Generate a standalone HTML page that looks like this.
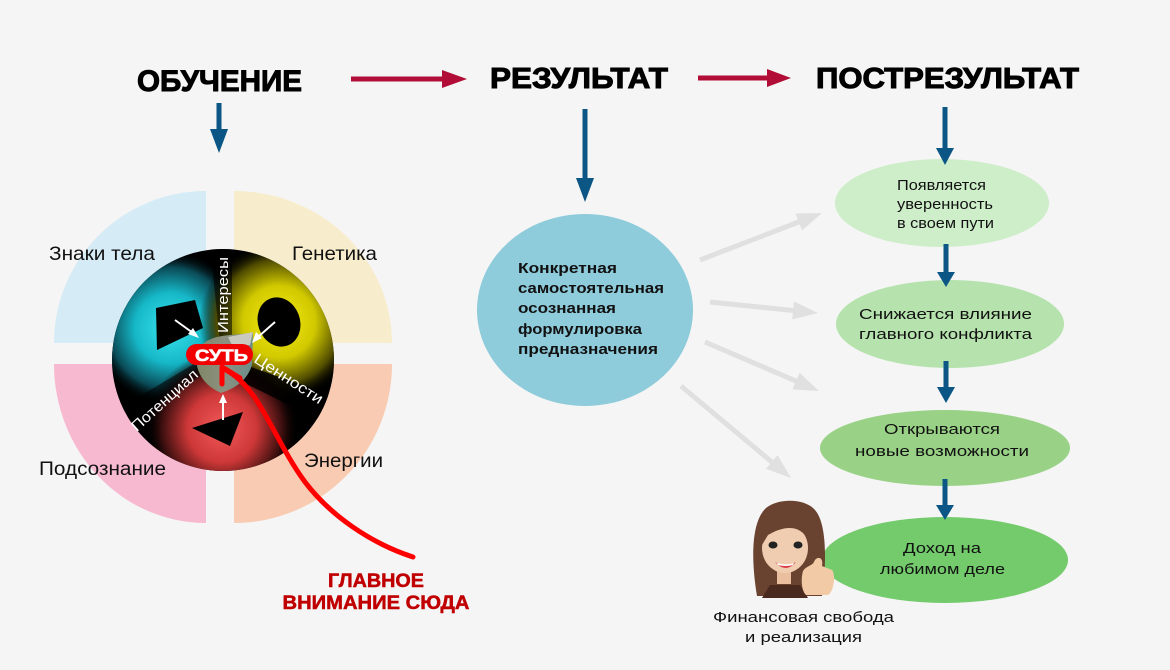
<!DOCTYPE html>
<html><head><meta charset="utf-8">
<style>
html,body{margin:0;padding:0;background:#f5f5f5;}
svg{display:block;}
text{font-family:"Liberation Sans",sans-serif;}
</style></head>
<body>
<svg width="1170" height="670" viewBox="0 0 1170 670" xmlns="http://www.w3.org/2000/svg">
<defs>
  <radialGradient id="gc" cx="170" cy="328" r="78" gradientUnits="userSpaceOnUse">
    <stop offset="0" stop-color="#3ae4ee"/>
    <stop offset="0.45" stop-color="#16b8c8"/>
    <stop offset="0.78" stop-color="#0a4a56"/>
    <stop offset="1" stop-color="#000" stop-opacity="0"/>
  </radialGradient>
  <radialGradient id="gy" cx="279" cy="322" r="80" gradientUnits="userSpaceOnUse">
    <stop offset="0" stop-color="#f2ea10"/>
    <stop offset="0.45" stop-color="#d2ca00"/>
    <stop offset="0.78" stop-color="#4e4a00"/>
    <stop offset="1" stop-color="#000" stop-opacity="0"/>
  </radialGradient>
  <radialGradient id="gr" cx="222" cy="428" r="76" gradientUnits="userSpaceOnUse">
    <stop offset="0" stop-color="#f25a5a"/>
    <stop offset="0.45" stop-color="#cf3838"/>
    <stop offset="0.8" stop-color="#3a0e0e"/>
    <stop offset="1" stop-color="#000" stop-opacity="0"/>
  </radialGradient>
  <linearGradient id="gs" x1="0" y1="0" x2="1" y2="0">
    <stop offset="0" stop-color="#7e8868"/>
    <stop offset="0.5" stop-color="#8d9080"/>
    <stop offset="1" stop-color="#6a8e8a"/>
  </linearGradient>
  <clipPath id="cc"><circle cx="223" cy="360" r="111"/></clipPath>
</defs>

<!-- Titles -->
<text x="137" y="91" font-size="30" font-weight="bold" fill="#000" stroke="#000" stroke-width="1" textLength="165" lengthAdjust="spacingAndGlyphs">ОБУЧЕНИЕ</text>
<text x="490" y="88" font-size="29" font-weight="bold" fill="#000" stroke="#000" stroke-width="1" textLength="178" lengthAdjust="spacingAndGlyphs">РЕЗУЛЬТАТ</text>
<text x="816" y="88" font-size="29" font-weight="bold" fill="#000" stroke="#000" stroke-width="1" textLength="263" lengthAdjust="spacingAndGlyphs">ПОСТРЕЗУЛЬТАТ</text>

<!-- Red horizontal arrows -->
<rect x="351" y="76.5" width="93" height="5" fill="#b10d36"/>
<polygon points="442,70 467,79 442,88" fill="#b10d36"/>
<rect x="698" y="75.5" width="71" height="5" fill="#b10d36"/>
<polygon points="767,69 791,78 767,87" fill="#b10d36"/>

<!-- Blue down arrows -->
<g fill="#0b5684">
  <rect x="216.5" y="103" width="5" height="28"/><polygon points="210,129 228,129 219,153"/>
  <rect x="582.5" y="109" width="5" height="71"/><polygon points="576,178 594,178 585,202"/>
</g>

<!-- Quarter shapes -->
<path d="M206,343 L54,343 A152,152 0 0 1 206,191 Z" fill="#d5ebf6"/>
<path d="M234,343 L234,191 A158,152 0 0 1 392,343 Z" fill="#f7edcd"/>
<path d="M206,364 L206,523 A152,159 0 0 1 54,364 Z" fill="#f7b9cf"/>
<path d="M234,364 L392,364 A158,159 0 0 1 234,523 Z" fill="#f9cbb2"/>

<text x="49" y="260" font-size="19" fill="#111" textLength="106" lengthAdjust="spacingAndGlyphs">Знаки тела</text>
<text x="292" y="260" font-size="19" fill="#111" textLength="85" lengthAdjust="spacingAndGlyphs">Генетика</text>
<text x="39" y="475" font-size="19" fill="#111" textLength="127" lengthAdjust="spacingAndGlyphs">Подсознание</text>
<text x="304" y="467" font-size="19" fill="#111" textLength="79" lengthAdjust="spacingAndGlyphs">Энергии</text>

<!-- Dark circle -->
<circle cx="223" cy="360" r="111" fill="#000"/>
<g clip-path="url(#cc)">
  <circle cx="170" cy="328" r="78" fill="url(#gc)"/>
  <circle cx="279" cy="322" r="80" fill="url(#gy)"/>
  <circle cx="222" cy="428" r="76" fill="url(#gr)"/>
  <!-- dark bands -->
  <polygon points="225,358 340,398 340,430 222,372" fill="#000" opacity="0.85"/>
  <polygon points="222,362 210,245 232,245 232,362" fill="#000" opacity="0.55"/>
  <polygon points="220,362 110,440 100,420 214,352" fill="#000" opacity="0.55"/>
</g>
<!-- black shapes -->
<polygon points="156,308 195,300 203,328 157,350" fill="#000"/>
<ellipse cx="279" cy="322" rx="21" ry="25" transform="rotate(-20 279 322)" fill="#000"/>
<polygon points="192,428 243,412 230,446" fill="#000"/>

<!-- center shield -->
<path d="M197,352 Q203,337 230,335 L253,333 L252,365 Q246,385 221,393 Q201,384 197,366 Z" fill="url(#gs)"/>
<path d="M228,337 L253,332 L250,345 L233,347 Z" fill="#c9c9bf"/>

<!-- white arrows -->
<g stroke="#fff" stroke-width="2" fill="#fff">
  <line x1="175" y1="320" x2="193" y2="333"/>
  <polygon points="199,338 188,334 193,328" stroke="none"/>
  <line x1="275" y1="322" x2="258" y2="337"/>
  <polygon points="252,343 256,332 262,338" stroke="none"/>
  <line x1="223" y1="420" x2="223" y2="401"/>
  <polygon points="223,394 219,403 227,403" stroke="none"/>
</g>

<!-- rotated white labels -->
<text transform="translate(228,295) rotate(-90)" text-anchor="middle" font-size="15" fill="#fff" textLength="76" lengthAdjust="spacingAndGlyphs">Интересы</text>
<text transform="translate(286,383) rotate(33)" text-anchor="middle" font-size="15" fill="#fff" textLength="79" lengthAdjust="spacingAndGlyphs">Ценности</text>
<text transform="translate(168,404) rotate(-42)" text-anchor="middle" font-size="15" fill="#fff" textLength="84" lengthAdjust="spacingAndGlyphs">Потенциал</text>

<!-- СУТЬ pill -->
<rect x="186" y="344" width="67" height="21" rx="10.5" fill="#f20000"/>
<text x="195" y="361" font-size="17" font-weight="bold" fill="#fff" stroke="#fff" stroke-width="0.6" textLength="53" lengthAdjust="spacingAndGlyphs">СУТЬ</text>

<!-- red curved arrow -->
<path d="M413,557 C370,543 330,515 305,482 C285,455 270,420 255,398 C245,384 236,375 224,369" fill="none" stroke="#ff0000" stroke-width="5" stroke-linecap="round"/>
<polyline points="222,384 222,367 240,378" fill="none" stroke="#ff0000" stroke-width="5" stroke-linecap="round" stroke-linejoin="round"/>

<text x="376" y="587" text-anchor="middle" font-size="19" font-weight="bold" fill="#c00000" stroke="#c00000" stroke-width="0.5" textLength="96" lengthAdjust="spacingAndGlyphs">ГЛАВНОЕ</text>
<text x="376" y="609" text-anchor="middle" font-size="19" font-weight="bold" fill="#c00000" stroke="#c00000" stroke-width="0.5" textLength="187" lengthAdjust="spacingAndGlyphs">ВНИМАНИЕ СЮДА</text>

<!-- Blue circle -->
<ellipse cx="585" cy="310" rx="108" ry="96" fill="#8ecbdb"/>
<g font-size="15" font-weight="bold" fill="#111">
  <text x="518" y="273" textLength="99" lengthAdjust="spacingAndGlyphs">Конкретная</text>
  <text x="518" y="293" textLength="146" lengthAdjust="spacingAndGlyphs">самостоятельная</text>
  <text x="518" y="313" textLength="98" lengthAdjust="spacingAndGlyphs">осознанная</text>
  <text x="518" y="334" textLength="124" lengthAdjust="spacingAndGlyphs">формулировка</text>
  <text x="518" y="354" textLength="140" lengthAdjust="spacingAndGlyphs">предназначения</text>
</g>

<!-- gray arrows -->
<g stroke="#e0e0e0" stroke-width="5" fill="none">
  <line x1="700" y1="260" x2="800" y2="221.5"/>
  <line x1="710" y1="302" x2="795" y2="310.7"/>
  <line x1="705" y1="342" x2="797" y2="381.5"/>
  <line x1="681" y1="386" x2="773" y2="463"/>
</g>
<g fill="#e0e0e0">
  <polygon points="822,213 802.0,230.4 795.5,213.6"/>
  <polygon points="818,313 792.2,319.5 794.0,301.5"/>
  <polygon points="819,391 792.5,389.4 799.6,372.8"/>
  <polygon points="791,478 766.0,468.9 777.6,455.1"/>
</g>

<!-- Green ellipses -->
<ellipse cx="942" cy="203" rx="107" ry="44" fill="#ceedc9"/>
<ellipse cx="950" cy="324" rx="114" ry="44" fill="#b6e3ad"/>
<ellipse cx="945" cy="448" rx="125" ry="38" fill="#99d286"/>
<ellipse cx="945" cy="560" rx="123" ry="43" fill="#73cb6c"/>

<!-- Blue arrows right column -->
<g fill="#0b5684">
  <rect x="942.5" y="107" width="5" height="43"/><polygon points="936,148 954,148 945,165"/>
  <rect x="943.5" y="244" width="5" height="30"/><polygon points="937,272 955,272 946,287"/>
  <rect x="943.5" y="361" width="5" height="28"/><polygon points="937,387 955,387 946,403"/>
  <rect x="942.5" y="479" width="5" height="28"/><polygon points="936,505 954,505 945,520"/>
</g>

<g font-size="15" fill="#111">
  <text x="897" y="190" textLength="89" lengthAdjust="spacingAndGlyphs">Появляется</text>
  <text x="897" y="209" textLength="96" lengthAdjust="spacingAndGlyphs">уверенность</text>
  <text x="897" y="228" textLength="97" lengthAdjust="spacingAndGlyphs">в своем пути</text>
  <text x="859" y="319" textLength="173" lengthAdjust="spacingAndGlyphs">Снижается влияние</text>
  <text x="859" y="339" textLength="173" lengthAdjust="spacingAndGlyphs">главного конфликта</text>
  <text x="884" y="434" textLength="116" lengthAdjust="spacingAndGlyphs">Открываются</text>
  <text x="855" y="456" textLength="174" lengthAdjust="spacingAndGlyphs">новые возможности</text>
  <text x="903" y="553" textLength="78" lengthAdjust="spacingAndGlyphs">Доход на</text>
  <text x="880" y="574" textLength="125" lengthAdjust="spacingAndGlyphs">любимом деле</text>
  <text x="713" y="622" textLength="181" lengthAdjust="spacingAndGlyphs">Финансовая свобода</text>
  <text x="745" y="642" textLength="117" lengthAdjust="spacingAndGlyphs">и реализация</text>
</g>

<!-- Avatar -->
<path d="M757,596 C751,560 751,522 766,508 C778,498 805,498 815,510 C828,525 826,568 822,596 Z" fill="#6a4230"/>
<path d="M770,585 L800,585 L808,598 L762,598 Z" fill="#4a2a1e"/>
<rect x="777" y="566" width="14" height="18" fill="#e9bf9f"/>
<ellipse cx="785" cy="548" rx="23" ry="25" fill="#f0cdb0"/>
<path d="M762,545 C760,518 782,506 806,516 C812,522 812,534 810,545 C805,528 790,522 768,535 Z" fill="#6a4230"/>
<ellipse cx="773" cy="545" rx="4.5" ry="3.5" fill="#222"/>
<ellipse cx="798" cy="545" rx="4.5" ry="3.5" fill="#222"/>
<path d="M775,562 Q785,568 796,562 Q786,574 775,562 Z" fill="#d83a48"/>
<path d="M777,563 Q786,566 794,563 L793,565 Q786,567 778,565 Z" fill="#fff"/>
<path d="M803,571 C806,566 812,566 814,562 C816,556 824,556 822,566 L832,570 C836,574 834,592 828,595 L806,595 C801,590 801,578 803,571 Z" fill="#f2cba6"/>
</svg>
</body></html>
